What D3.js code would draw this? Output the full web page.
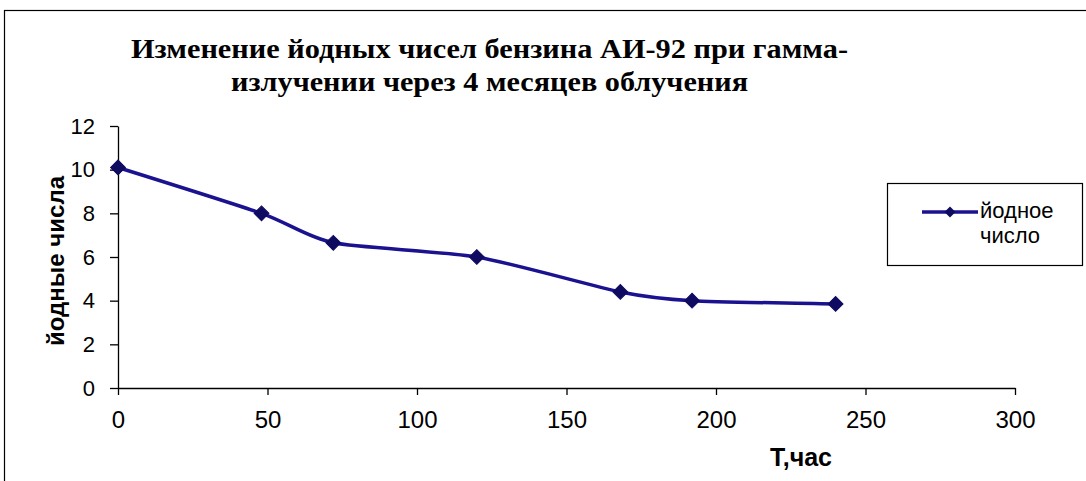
<!DOCTYPE html>
<html>
<head>
<meta charset="utf-8">
<script src="https://cdn.jsdelivr.net/npm/d3@7"></script>
<style>
body { margin: 0; background: #fff; }
</style>
</head>
<body>
<svg id="chart" width="1086" height="481"></svg>
<script>
var hours = [0, 48, 72, 120, 168, 192, 240];
var iodine = [10.1, 8.0, 6.65, 6.0, 4.4, 4.0, 3.85];
var xTicks = [0, 50, 100, 150, 200, 250, 300];
var yTicks = [0, 2, 4, 6, 8, 10, 12];
var titleLines = ["Изменение йодных чисел бензина АИ-92 при гамма-", "излучении  через 4 месяцев облучения"];
var seriesName = ["йодное", "число"];

var svg = d3.select("#chart");

svg.append("rect")
    .attr("x", 4.5).attr("y", 10.5)
    .attr("width", 1100).attr("height", 500)
    .attr("fill", "#fff")
    .attr("stroke", "#000")
    .attr("stroke-width", 1.2);

var x = d3.scaleLinear().domain([0, 300]).range([118, 1015]);
var y = d3.scaleLinear().domain([0, 12]).range([388, 126]);

// title, stretched to the widths in the picture
svg.append("g")
    .selectAll("text")
    .data(titleLines)
    .enter()
    .append("text")
    .attr("x", function (d, i) { return i == 0 ? 131 : 231; })
    .attr("y", function (d, i) { return 58 + i * 33; })
    .attr("textLength", function (d, i) { return i == 0 ? 717 : 517; })
    .attr("lengthAdjust", "spacingAndGlyphs")
    .attr("font-family", "'Liberation Serif', 'Times New Roman', serif")
    .attr("font-weight", "bold")
    .attr("font-size", 28)
    .text(function (d) { return d; });

// axes
var xAxis = svg.append("g")
    .attr("transform", "translate(0," + y(0) + ")")
    .call(d3.axisBottom(x).tickValues(xTicks).tickSize(7).tickPadding(8).tickSizeOuter(0));
var yAxis = svg.append("g")
    .attr("transform", "translate(" + x(0) + ",0)")
    .call(d3.axisLeft(y).tickValues(yTicks).tickSize(8).tickPadding(8).tickSizeOuter(0));

[xAxis, yAxis].forEach(function (a) {
    a.select(".domain").attr("stroke", "#000").attr("stroke-width", 1.3);
    a.selectAll(".tick line").attr("stroke", "#000").attr("stroke-width", 1.3);
    a.selectAll(".tick text")
        .attr("fill", "#000")
        .attr("font-family", "'Liberation Sans', Arial, sans-serif");
});
xAxis.selectAll(".tick text")
    .attr("font-size", 24)
    .attr("y", 40)
    .attr("dy", null);
yAxis.selectAll(".tick text")
    .attr("font-size", 22)
    .attr("x", -23);

// axis titles
svg.append("text")
    .attr("transform", "translate(64,261) rotate(-90)")
    .attr("text-anchor", "middle")
    .attr("font-family", "'Liberation Sans', Arial, sans-serif")
    .attr("font-weight", "bold")
    .attr("font-size", 24)
    .text("йодные числа");

svg.append("text")
    .attr("x", 801).attr("y", 466)
    .attr("text-anchor", "middle")
    .attr("font-family", "'Liberation Sans', Arial, sans-serif")
    .attr("font-weight", "bold")
    .attr("font-size", 25)
    .text("Т,час");

// series
var pts = hours.map(function (h, i) { return [h, iodine[i]]; });
var line = d3.line()
    .x(function (d) { return x(d[0]); })
    .y(function (d) { return y(d[1]); })
    .curve(d3.curveCardinal.tension(0.3));

svg.append("path")
    .datum(pts)
    .attr("fill", "none")
    .attr("stroke", "#1b1290")
    .attr("stroke-width", 3.5)
    .attr("d", line);

var marker = d3.symbol().type(d3.symbolSquare).size(110);
svg.append("g")
    .selectAll("path")
    .data(pts)
    .enter()
    .append("path")
    .attr("transform", function (d) { return "translate(" + x(d[0]) + "," + y(d[1]) + ") rotate(45)"; })
    .attr("d", marker)
    .attr("fill", "#0f0b60")
    .attr("stroke", "#0f0b60");

// legend
var legend = svg.append("g");
legend.append("rect")
    .attr("x", 887.5).attr("y", 183.5)
    .attr("width", 195).attr("height", 82)
    .attr("fill", "#fff")
    .attr("stroke", "#000")
    .attr("stroke-width", 1.2);
legend.append("line")
    .attr("x1", 922).attr("x2", 978)
    .attr("y1", 212).attr("y2", 212)
    .attr("stroke", "#1b1290")
    .attr("stroke-width", 3.5);
legend.append("path")
    .attr("transform", "translate(950,212) rotate(45)")
    .attr("d", d3.symbol().type(d3.symbolSquare).size(60))
    .attr("fill", "#0f0b60");
legend.selectAll("text")
    .data(seriesName)
    .enter()
    .append("text")
    .attr("x", 980)
    .attr("y", function (d, i) { return 218 + i * 25; })
    .attr("font-family", "'Liberation Sans', Arial, sans-serif")
    .attr("font-size", 22)
    .text(function (d) { return d; });
</script>
</body>
</html>
